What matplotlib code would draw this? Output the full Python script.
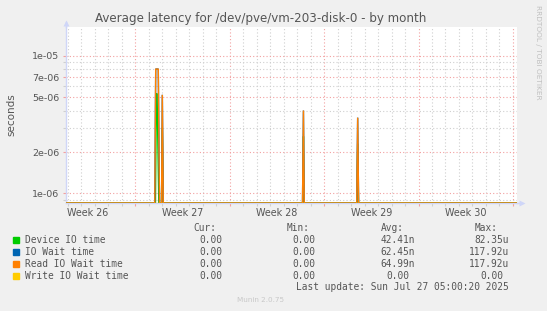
import numpy as np
import matplotlib
matplotlib.use("Agg")
import matplotlib.pyplot as plt
from matplotlib.patches import Rectangle
from matplotlib.ticker import NullFormatter

# ---------------- data ----------------
title = "Average latency for /dev/pve/vm-203-disk-0 - by month"
# time axis: days relative to Sun 2025-06-29 00:00
x_range = [-5.13, 28.3]
week_bounds = [0, 7, 14, 21, 28]
week_label_pos = [-3.5, 3.5, 10.5, 17.5, 24.5]
week_labels = ["Week 26", "Week 27", "Week 28", "Week 29", "Week 30"]
day_ticks = list(range(-5, 29))

y_range = [8.53e-7, 1.615e-5]
ytick_vals = [1e-6, 2e-6, 5e-6, 7e-6, 1e-5]
ytick_labels = ["1e-06", "2e-06", "5e-06", "7e-06", "1e-05"]
yminor_vals = [9e-7, 3e-6, 4e-6, 6e-6, 8e-6, 9e-6]

device_t = [-5.13, 1.50, 1.57, 1.62, 1.75, 1.95, 2.01, 2.07, 12.42, 12.47, 12.52, 16.43, 16.49, 16.55, 28.3]
device_v = [0, 0, 5.3e-6, 5.3e-6, 0, 0, 3.0e-6, 0, 0, 2.6e-6, 0, 0, 2.3e-6, 0, 0]

iowait_t = [-5.13, 1.45, 1.52, 1.71, 1.80, 1.95, 2.01, 2.08, 12.40, 12.47, 12.53, 16.42, 16.49, 16.56, 28.3]
iowait_v = [0, 0, 8.0e-6, 8.0e-6, 0, 0, 5.2e-6, 0, 0, 4.0e-6, 0, 0, 3.55e-6, 0, 0]

read_t = [-5.13, 1.45, 1.52, 1.71, 1.80, 1.95, 2.01, 2.08, 12.40, 12.47, 12.53, 16.42, 16.49, 16.56, 28.3]
read_v = [0, 0, 8.0e-6, 8.0e-6, 0, 0, 5.2e-6, 0, 0, 4.0e-6, 0, 0, 3.55e-6, 0, 0]

write_t = [-5.13, 28.3]
write_v = [0, 0]

series_names = ["Device IO time", "IO Wait time", "Read IO Wait time", "Write IO Wait time"]
series_colors = ["#00CC00", "#0066B3", "#FF8000", "#FFCC00"]
cur_vals = ["0.00", "0.00", "0.00", "0.00"]
min_vals = ["0.00", "0.00", "0.00", "0.00"]
avg_vals = ["42.41n", "62.45n", "64.99n", "0.00"]
max_vals = ["82.35u", "117.92u", "117.92u", "0.00"]
last_update = "Last update: Sun Jul 27 05:00:20 2025"
footer = "Munin 2.0.75"
side_text = "RRDTOOL / TOBI OETIKER"

# ---------------- figure ----------------
W, H = 547, 311
BG = "#F0F0F0"
TXT = "#555555"
fig = plt.figure(figsize=(W / 100, H / 100), dpi=100, facecolor=BG)

def fx(px):
    return px / W

def fy(py):
    return 1 - py / H

ax = fig.add_axes([fx(66), fy(203), (517 - 66) / W, (203 - 27) / H])
ax.set_facecolor("white")
ax.set_yscale("log")
ax.set_xlim(*x_range)
ax.set_ylim(*y_range)

# rrdtool clamps values below the axis to the bottom edge
FLOOR = y_range[0]
series = [(device_t, device_v), (iowait_t, iowait_v), (read_t, read_v), (write_t, write_v)]
for (t, v), c in zip(series, series_colors):
    ax.plot(t, np.maximum(np.array(v, dtype=float), FLOOR), color=c, lw=1.0,
            solid_joinstyle="miter", zorder=3)

# ticks / grid
ax.set_xticks(week_bounds)
ax.set_xticks(day_ticks, minor=True)
ax.xaxis.set_major_formatter(NullFormatter())
ax.xaxis.set_minor_formatter(NullFormatter())
ax.set_yticks(ytick_vals, labels=ytick_labels)
ax.set_yticks(yminor_vals, minor=True)
ax.yaxis.set_minor_formatter(NullFormatter())

MG = "#F2A0A0"
mg = "#CFCFCF"
ax.set_axisbelow(True)
ax.grid(which="major", color=MG, linestyle=(0, (1, 2)), linewidth=0.8)
ax.grid(which="minor", color=mg, linestyle=(0, (1, 2)), linewidth=0.8)
ax.tick_params(which="major", direction="out", length=2, width=0.8, color=MG,
               labelsize=6.8, labelcolor=TXT, pad=3)
ax.tick_params(which="minor", direction="out", length=2, width=0.8, color=mg)

for s in ["top", "right"]:
    ax.spines[s].set_visible(False)
for s in ["left", "bottom"]:
    ax.spines[s].set_color("#CFD6F8")
    ax.spines[s].set_linewidth(1.0)
    ax.spines[s].set_zorder(1)

# arrows
ax.plot([0, 0], [1, 1.03], color="#CFD6F8", lw=1.0, transform=ax.transAxes, clip_on=False)
ax.plot(0, 1.025, marker="^", ms=5, color="#CFD6F8", mec="none", transform=ax.transAxes, clip_on=False)
ax.plot([1, 1.012], [0, 0], color="#CFD6F8", lw=1.0, transform=ax.transAxes, clip_on=False)
ax.plot(1.01, 0, marker=">", ms=5, color="#CFD6F8", mec="none", transform=ax.transAxes, clip_on=False)

for p, lab in zip(week_label_pos, week_labels):
    ax.text(p, -0.055, lab, transform=ax.get_xaxis_transform(), ha="center", va="center",
            fontsize=6.9, color=TXT)

fig.text(fx(11), fy(115), "seconds", rotation=90, ha="center", va="center",
         fontsize=7.5, color=TXT)

fig.text(fx(261), fy(18.5), title, ha="center", va="center", fontsize=8.6, color=TXT)
fig.text(fx(538), fy(5), side_text, rotation=270, ha="center", va="top", fontsize=5.3,
         color="#C0C0C0")

# legend
MONO = "DejaVu Sans Mono"
LFS = 6.85
CW = 5.7
rows_y = [239.7, 251.7, 263.7, 275.7]
col_edges = [228, 321, 415, 509]
headers = ["Cur:", "Min:", "Avg:", "Max:"]
for e, h in zip(col_edges, headers):
    fig.text(fx(e - 2 * CW), fy(228), h, ha="right", va="center", fontsize=LFS,
             family=MONO, color=TXT)
for i, y in enumerate(rows_y):
    fig.patches.append(Rectangle((fx(13), fy(y + 3)), 6 / W, 6 / H, color=series_colors[i],
                                 transform=fig.transFigure, figure=fig))
    fig.text(fx(25), fy(y), series_names[i], ha="left", va="center", fontsize=LFS,
             family=MONO, color=TXT)
    for e, vals in zip(col_edges, [cur_vals, min_vals, avg_vals, max_vals]):
        s = vals[i]
        shift = 0 if s[-1].isalpha() else CW
        fig.text(fx(e - shift), fy(y), s, ha="right", va="center", fontsize=LFS,
                 family=MONO, color=TXT)
fig.text(fx(509), fy(287), last_update, ha="right", va="center", fontsize=LFS,
         family=MONO, color=TXT)
fig.text(fx(261), fy(300), footer, ha="center", va="center", fontsize=5.2, color="#C8C8C8")

fig.savefig("out.png", dpi=100, facecolor=BG)
